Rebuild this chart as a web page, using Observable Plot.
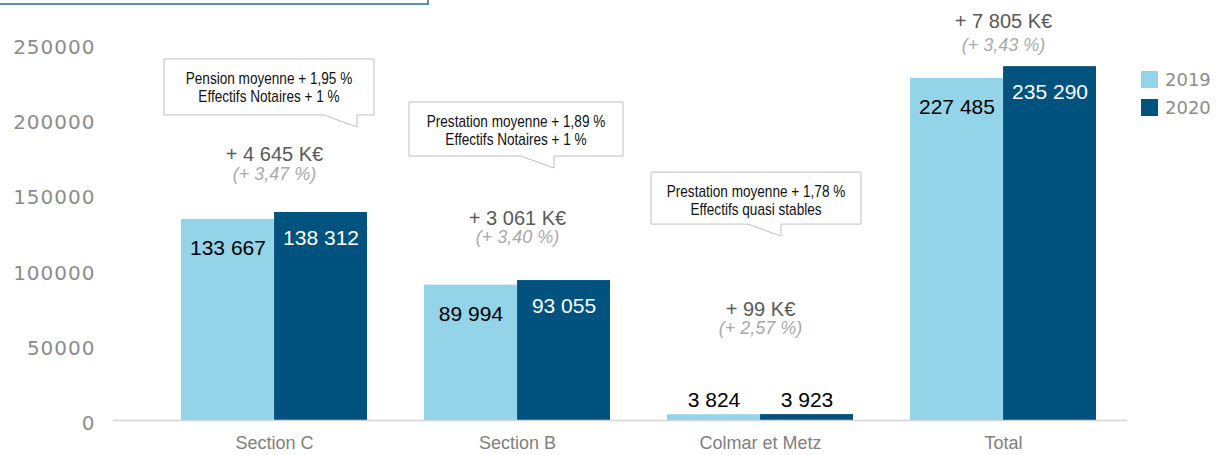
<!DOCTYPE html>
<html>
<head>
<meta charset="utf-8">
<script src="https://cdn.jsdelivr.net/npm/d3@7"></script>
<script src="https://cdn.jsdelivr.net/npm/@observablehq/plot@0.6"></script>
<style>
  body { margin: 0; background: #fff; }
  #wrap { position: relative; width: 1220px; height: 455px; overflow: hidden; background: #fff; }
  #titlebox { position: absolute; left: -4px; top: -40px; width: 433px; height: 45px; box-sizing: border-box;
              border: 2px solid #5b8dbf; }
  #legend { position: absolute; left: 1141px; top: 71px; font-family: "DejaVu Sans", sans-serif; font-size: 18px; color: #8c8c8c; }
  #legend .item { display: flex; align-items: center; height: 17px; margin-bottom: 11px; }
  #legend .sw { width: 17px; height: 17px; margin-right: 7px; }
</style>
</head>
<body>
<div id="wrap">
  <div id="titlebox"></div>
  <div id="chart"></div>
  <div id="legend"></div>
</div>
<script>
// ---------- data ----------
const categories = ["Section C", "Section B", "Colmar et Metz", "Total"];
const years = ["2019", "2020"];
const values2019 = [133667, 89994, 3824, 227485];
const values2020 = [138312, 93055, 3923, 235290];
const deltaLabels = ["+ 4 645 K€", "+ 3 061 K€", "+ 99 K€", "+ 7 805 K€"];
const pctLabels = ["(+ 3,47 %)", "(+ 3,40 %)", "(+ 2,57 %)", "(+ 3,43 %)"];
const calloutLines = [
  ["Pension moyenne + 1,95 %", "Effectifs Notaires + 1 %"],
  ["Prestation moyenne + 1,89 %", "Effectifs Notaires + 1 %"],
  ["Prestation moyenne + 1,78 %", "Effectifs quasi stables"],
  null
];
const yTicks = [0, 50000, 100000, 150000, 200000, 250000];

// ---------- styles / layout ----------
const colors = ["#94d4e8", "#00527f"];
const W = 1220, H = 455;
const xRange = [180, 1097], padIn = 0.236;
const step = (xRange[1] - xRange[0]) / (categories.length - padIn);
const bw = step * (1 - padIn), half = bw / 2;
const noteLayout = {
  "Section C": {delta: -58, pct: -38},
  "Section B": {delta: -62, pct: -43},
  "Colmar et Metz": {delta: -105, pct: -86},
  "Total": {delta: -45, pct: -21}
};
const calloutLayout = {
  "Section C": {dx: -110, dy: -153, w: 210, h: 56, tail: 160},
  "Section B": {dx: -108, dy: -178, w: 214, h: 54, tail: 112},
  "Colmar et Metz": {dx: -109, dy: -242, w: 210, h: 52, tail: 97}
};

const fmt = d3.formatLocale({thousands: " ", grouping: [3], decimal: ",", currency: ["", "€"]}).format(",d");

const table = categories.flatMap((c, i) => [
  {category: c, year: years[0], value: values2019[i]},
  {category: c, year: years[1], value: values2020[i]}
]);
const notes = categories.map((c, i) => ({
  category: c,
  top: Math.max(values2019[i], values2020[i]),
  delta: deltaLabels[i],
  pct: pctLabels[i],
  lines: calloutLines[i]
}));
const outside = d => d.value < 20000;
const y19 = table.filter(d => d.year === years[0]);
const y20 = table.filter(d => d.year === years[1]);
const font = "'Liberation Sans', Arial, sans-serif";

const plot = Plot.plot({
  width: W, height: H,
  marginLeft: 113, marginRight: 93, marginTop: 44, marginBottom: 35,
  style: {fontFamily: font, background: "#fff", overflow: "visible"},
  x: {domain: categories, range: xRange, paddingInner: padIn, paddingOuter: 0, axis: null},
  y: {domain: [0, 250000], axis: null},
  color: {domain: years, range: colors},
  marks: [
    Plot.axisY({ticks: yTicks, tickSize: 0, tickPadding: 18, tickFormat: d3.format("d"), fontSize: 20,
                fontFamily: "DejaVu Sans, sans-serif", fill: "#8c8c8c", dy: 3, label: null}),
    Plot.axisX({tickSize: 0, tickPadding: 16, fontSize: 18, fill: "#808080", label: null}),
    Plot.barY(y19, {x: "category", y: "value", fill: "year", insetRight: half}),
    Plot.barY(y20, {x: "category", y: "value", fill: "year", insetLeft: half}),
    Plot.ruleY([0], {stroke: "#d4d4d4", strokeWidth: 1.5}),
    Plot.text(y19.filter(d => !outside(d)), {x: "category", y: "value", text: d => fmt(d.value), dx: -half / 2, dy: 29,
              fill: "#000", fontSize: 21, lineAnchor: "middle"}),
    Plot.text(y20.filter(d => !outside(d)), {x: "category", y: "value", text: d => fmt(d.value), dx: half / 2, dy: 26,
              fill: "#fff", fontSize: 21, lineAnchor: "middle"}),
    Plot.text(y19.filter(outside), {x: "category", y: "value", text: d => fmt(d.value), dx: -half / 2, dy: -14,
              fill: "#000", fontSize: 21, lineAnchor: "middle"}),
    Plot.text(y20.filter(outside), {x: "category", y: "value", text: d => fmt(d.value), dx: half / 2, dy: -14,
              fill: "#000", fontSize: 21, lineAnchor: "middle"}),
    ...notes.flatMap(n => [
      Plot.text([n], {x: "category", y: "top", text: "delta", dy: noteLayout[n.category].delta,
                      fill: "#595959", fontSize: 20, lineAnchor: "middle"}),
      Plot.text([n], {x: "category", y: "top", text: "pct", dy: noteLayout[n.category].pct,
                      fill: "#a9a9a9", fontSize: 18, fontStyle: "italic", lineAnchor: "middle"})
    ])
  ]
});

// callout bubbles anchored to the scales
const xs = plot.scale("x"), ys = plot.scale("y");
const svg = d3.select(plot);
notes.filter(n => n.lines).forEach(n => {
  const L = calloutLayout[n.category];
  const cx = xs.apply(n.category) + xs.bandwidth / 2;
  const x0 = cx + L.dx, y0 = ys.apply(n.top) + L.dy;
  const g = svg.append("g");
  g.append("path")
    .attr("d", `M${x0},${y0}H${x0 + L.w}V${y0 + L.h}H${x0 + L.tail + 33}V${y0 + L.h + 12}L${x0 + L.tail},${y0 + L.h}H${x0}Z`)
    .attr("fill", "#fff").attr("stroke", "#bfbfbf").attr("stroke-width", 1);
  n.lines.forEach((t, k) => {
    g.append("text")
      .attr("transform", `translate(${x0 + L.w / 2},${y0 + 20 + k * 18}) scale(0.85,1)`)
      .attr("text-anchor", "middle").attr("dominant-baseline", "central")
      .attr("font-family", "'Liberation Sans Narrow', 'Arial Narrow', 'Liberation Sans', sans-serif")
      .attr("font-size", 16).attr("fill", "#111").text(t);
  });
});
svg.selectAll('g[aria-label="y-axis tick label"] text').attr("letter-spacing", "1px");

document.getElementById("chart").appendChild(plot);

// legend
const leg = d3.select("#legend");
years.forEach((y, i) => {
  const it = leg.append("div").attr("class", "item");
  it.append("div").attr("class", "sw").style("background", colors[i]);
  it.append("span").text(y);
});
</script>
</body>
</html>
